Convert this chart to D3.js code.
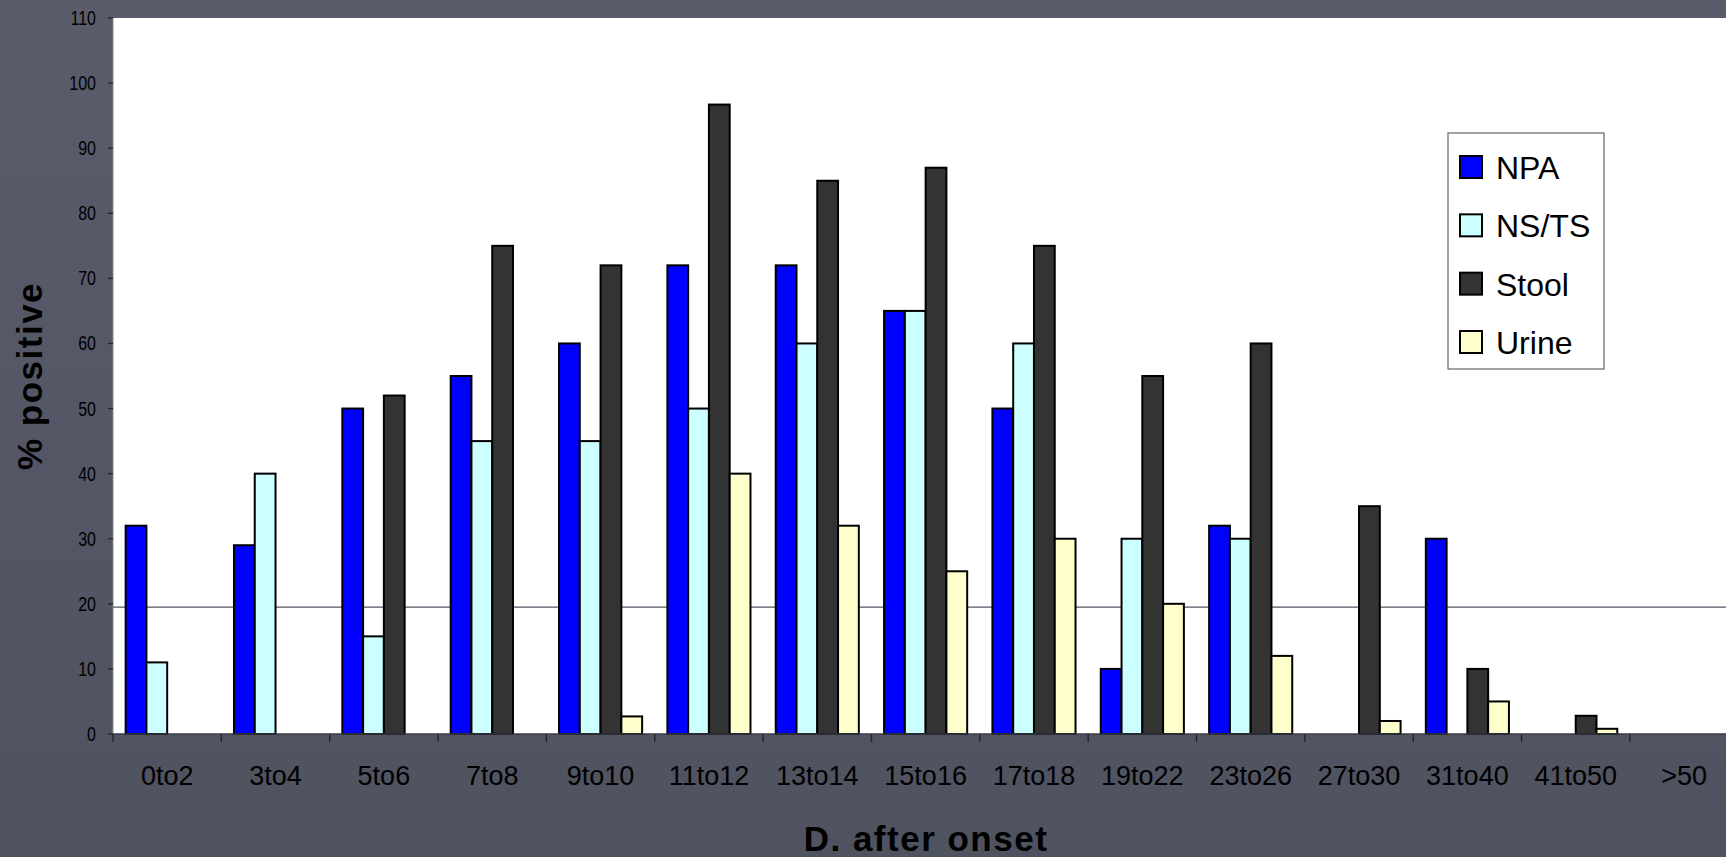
<!DOCTYPE html>
<html>
<head>
<meta charset="utf-8">
<script src="https://cdn.jsdelivr.net/npm/d3@7/dist/d3.min.js"></script>
<style>
  html, body { margin: 0; padding: 0; background: #545767; }
  svg { display: block; }
  text { font-family: "Liberation Sans", Arial, sans-serif; }
</style>
</head>
<body>
<svg id="chart" width="1726" height="857"></svg>
<script>
const categories = ["0to2","3to4","5to6","7to8","9to10","11to12","13to14","15to16","17to18","19to22","23to26","27to30","31to40","41to50",">50"];
const seriesNames = ["NPA","NS/TS","Stool","Urine"];
const npa   = [32, 29, 50, 55, 60, 72, 72, 65, 50, 10, 32, 0, 30, 0, 0];
const nsts  = [11, 40, 15, 45, 45, 50, 60, 65, 60, 30, 30, 0, 0, 0, 0];
const stool = [0, 0, 52, 75, 72, 96.7, 85, 87, 75, 55, 60, 35, 10, 2.8, 0];
const urine = [0, 0, 0, 0, 2.7, 40, 32, 25, 30, 20, 12, 2, 5, 0.8, 0];
const yTicks = [0,10,20,30,40,50,60,70,80,90,100,110];
const refLineValue = 19.5;
const seriesColors = ["#0000FF", "#CCFFFF", "#333333", "#FFFFCC"];

const seriesValues = [npa, nsts, stool, urine];

(function () {
const W = 1726, H = 857;
const svg = d3.select("#chart");

const defs = svg.append("defs");
const grad = defs.append("linearGradient").attr("id","bg").attr("x1",0).attr("y1",0).attr("x2",0).attr("y2",1);
grad.append("stop").attr("offset","0%").attr("stop-color","#5a5c6c");
grad.append("stop").attr("offset","100%").attr("stop-color","#4f525f");
svg.append("rect").attr("width",W).attr("height",H).attr("fill","url(#bg)");

const pLeft = 113, pTop = 18, pBottom = 734;
const step = 108.35;
const x = d3.scaleBand().domain(categories).range([pLeft, pLeft + step * categories.length]).paddingInner(0).paddingOuter(0);
const bw = x.bandwidth();
const x1 = d3.scaleBand().domain(seriesNames).range([bw * 0.1165, bw * 0.8835]).padding(0);
const y = d3.scaleLinear().domain([0, 110]).range([pBottom, pTop]);

svg.append("rect").attr("x", pLeft).attr("y", pTop).attr("width", W - pLeft).attr("height", pBottom - pTop).attr("fill", "#ffffff");

svg.append("line")
  .attr("x1", pLeft).attr("x2", W)
  .attr("y1", y(refLineValue)).attr("y2", y(refLineValue))
  .attr("stroke", "#555566").attr("stroke-width", 1.2);

const rows = [];
categories.forEach((c, i) => {
  seriesNames.forEach((s, j) => {
    const v = seriesValues[j][i];
    if (v > 0) rows.push({c, s, v, j});
  });
});
svg.append("g").selectAll("rect").data(rows).join("rect")
  .attr("x", d => x(d.c) + x1(d.s))
  .attr("y", d => y(d.v))
  .attr("width", x1.bandwidth())
  .attr("height", d => y(0) - y(d.v))
  .attr("fill", d => seriesColors[d.j])
  .attr("stroke", "#000")
  .attr("stroke-width", 2);

svg.append("line").attr("x1", pLeft).attr("x2", W).attr("y1", pBottom).attr("y2", pBottom)
  .attr("stroke", "#3a3a44").attr("stroke-width", 1.5);
svg.append("g").selectAll("line").data(categories).join("line")
  .attr("x1", d => x(d)).attr("x2", d => x(d))
  .attr("y1", pBottom).attr("y2", pBottom + 8)
  .attr("stroke", "#222").attr("stroke-width", 1.3);
svg.append("g").selectAll("text").data(categories).join("text")
  .attr("x", d => x(d) + bw / 2)
  .attr("y", 785)
  .attr("text-anchor", "middle")
  .attr("font-size", 27)
  .attr("fill", "#000")
  .text(d => d);

svg.append("line").attr("x1", pLeft).attr("x2", pLeft).attr("y1", pTop).attr("y2", pBottom)
  .attr("stroke", "#888").attr("stroke-width", 1);
svg.append("g").selectAll("line").data(yTicks).join("line")
  .attr("x1", pLeft - 5).attr("x2", pLeft)
  .attr("y1", d => y(d)).attr("y2", d => y(d))
  .attr("stroke", "#222").attr("stroke-width", 1.2);
svg.append("g").selectAll("text").data(yTicks).join("text")
  .attr("transform", d => `translate(96, ${y(d) + 7}) scale(0.8, 1)`)
  .attr("text-anchor", "end")
  .attr("font-size", 20)
  .attr("fill", "#000")
  .text(d => d);

svg.append("text")
  .attr("transform", `translate(42, 376) rotate(-90)`)
  .attr("text-anchor", "middle")
  .attr("font-size", 35)
  .attr("letter-spacing", 1.5)
  .attr("font-weight", "bold")
  .attr("fill", "#000")
  .text("% positive");
svg.append("text")
  .attr("x", 926).attr("y", 851)
  .attr("text-anchor", "middle")
  .attr("font-size", 35)
  .attr("letter-spacing", 1.5)
  .attr("font-weight", "bold")
  .attr("fill", "#000")
  .text("D. after onset");

const lg = svg.append("g");
lg.append("rect").attr("x", 1448).attr("y", 133).attr("width", 156).attr("height", 236)
  .attr("fill", "#fff").attr("stroke", "#666").attr("stroke-width", 1.2);
const rowY = d3.scalePoint().domain(seriesNames).range([167, 342]);
seriesNames.forEach((s, j) => {
  lg.append("rect").attr("x", 1460).attr("y", rowY(s) - 11).attr("width", 22).attr("height", 22)
    .attr("fill", seriesColors[j]).attr("stroke", "#000").attr("stroke-width", 2);
  lg.append("text").attr("x", 1496).attr("y", rowY(s) + 12)
    .attr("font-size", 32).attr("fill", "#000").text(s);
});
})();
</script>
</body>
</html>
